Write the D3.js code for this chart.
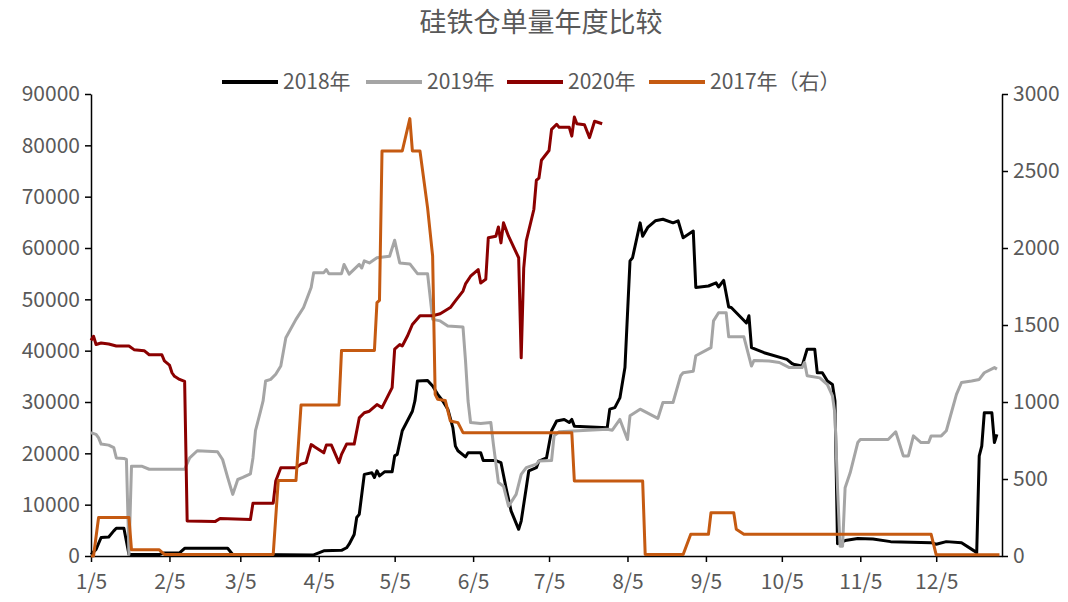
<!DOCTYPE html>
<html><head><meta charset="utf-8">
<script src="https://cdn.jsdelivr.net/npm/d3@7/dist/d3.min.js"></script>
<style>
body{margin:0;background:#fff;}
text{font-family:"Noto Sans CJK SC","Noto Sans",sans-serif;fill:#595959;}
</style></head>
<body><svg id="c" width="1068" height="602"></svg>
<script>
const title = "硅铁仓单量年度比较";
const seriesNames = ["2018年","2019年","2020年","2017年（右）"];
const seriesColors = ["#000000","#A5A5A5","#8B0000","#C55A11"];
const xTickLabels = ["1/5","2/5","3/5","4/5","5/5","6/5","7/5","8/5","9/5","10/5","11/5","12/5"];
const leftTicks = [0,10000,20000,30000,40000,50000,60000,70000,80000,90000];
const rightTicks = [0,500,1000,1500,2000,2500,3000];

const dates2018 = ["01-05","01-07","01-09","01-12","01-14","01-15","01-18","01-20","02-01","02-03","02-09","02-11","02-28","03-02","04-03","04-05","04-07","04-14","04-16","04-17","04-19","04-20","04-21","04-23","04-26","04-27","04-28","04-29","05-01","05-04","05-05","05-06","05-08","05-10","05-12","05-13","05-14","05-18","05-20","05-22","05-24","05-26","05-28","05-29","05-30","06-02","06-03","06-08","06-09","06-14","06-16","06-18","06-20","06-23","06-24","06-26","06-27","06-30","07-01","07-04","07-06","07-08","07-11","07-13","07-14","07-15","07-28","07-29","07-31","08-02","08-04","08-06","08-07","08-10","08-11","08-13","08-16","08-19","08-23","08-25","08-27","08-31","09-01","09-06","09-09","09-10","09-12","09-14","09-15","09-21","09-22","09-23","09-28","10-07","10-09","10-10","10-13","10-15","10-18","10-19","10-21","10-23","10-25","10-26","10-27","10-30","11-04","11-10","11-17","12-03","12-05","12-09","12-15","12-20","12-21","12-22","12-23","12-24","12-27","12-28","12-29"];
const values2018 = [300,1300,3600,3700,4900,5400,5400,300,300,600,600,1500,1500,300,200,600,1000,1100,1600,2300,4200,7500,8100,15900,16200,15300,16600,15600,16400,16400,19500,19800,24400,26300,28200,30200,34100,34200,33100,31500,30200,28600,25000,21400,20500,19300,20100,20100,18600,18600,18200,13300,8800,5200,6800,13300,16600,17200,18500,19100,24400,26300,26600,26000,26600,25300,25000,28600,28900,30800,36700,57500,58100,64900,62300,64000,65300,65600,64900,65300,62000,63300,52300,52600,53200,52400,53700,48500,48400,45400,46800,40600,39600,38300,37500,37300,37000,40300,40300,35700,35700,34100,33400,30200,2400,3000,3400,3300,2800,2600,2300,2800,2600,1000,600,19500,21400,27900,27900,22100,23700];

const dates2019 = ["01-05","01-07","01-08","01-09","01-12","01-14","01-15","01-18","01-19","01-20","01-21","01-25","01-28","02-11","02-13","02-16","02-24","02-26","02-28","03-02","03-04","03-06","03-09","03-10","03-11","03-13","03-14","03-15","03-17","03-19","03-21","03-23","03-27","03-30","04-02","04-03","04-07","04-08","04-09","04-14","04-15","04-17","04-21","04-22","04-23","04-25","04-28","05-03","05-05","05-07","05-11","05-14","05-18","05-20","05-23","05-26","06-01","06-02","06-03","06-04","06-08","06-12","06-13","06-15","06-17","06-19","06-22","06-24","06-26","06-30","07-01","07-06","07-07","07-09","07-28","07-30","08-02","08-05","08-06","08-10","08-17","08-19","08-23","08-26","08-27","08-31","09-01","09-07","09-08","09-10","09-13","09-14","09-20","09-23","09-24","09-30","10-04","10-08","10-13","10-14","10-15","10-20","10-23","10-25","10-26","10-27","10-28","10-29","10-30","11-01","11-04","11-05","11-16","11-19","11-22","11-24","11-26","11-29","12-02","12-03","12-07","12-09","12-13","12-15","12-19","12-22","12-24","12-28","12-29"];
const values2019 = [24000,23700,23000,21800,21600,21100,19100,19000,18800,300,17500,17500,16900,16900,19100,20500,20300,18800,15300,12000,14900,15300,16000,19100,24400,28200,30200,34100,34400,35400,37000,42500,46100,48400,52300,55200,55200,55800,55000,55000,56800,54900,56800,56100,57500,57100,58100,58400,61500,57100,56900,55000,55000,46100,45800,44800,44600,38000,30200,26000,25800,26000,21800,14300,13600,9700,12000,15900,17200,17900,18500,18600,23400,24200,24700,24500,26600,22700,27300,28600,26800,29900,29900,35100,35700,36000,39000,40600,45800,47400,47400,42700,42700,37000,38100,38000,37700,36700,36700,37700,35100,34700,33400,31200,27600,13300,1900,1900,13300,16200,22100,22700,22700,24200,19500,19500,23400,22100,22100,23400,23400,24400,31500,33800,34100,34400,35700,36700,36400];

const dates2020 = ["01-05","01-06","01-07","01-09","01-12","01-15","01-20","01-22","01-26","01-28","02-02","02-03","02-05","02-06","02-07","02-09","02-11","02-12","02-23","02-25","03-09","03-10","03-18","03-19","03-21","03-27","03-29","03-31","04-02","04-03","04-07","04-08","04-10","04-13","04-14","04-16","04-19","04-21","04-23","04-25","04-28","04-30","05-04","05-05","05-07","05-08","05-10","05-12","05-15","05-20","05-23","05-27","05-29","06-01","06-02","06-04","06-07","06-08","06-10","06-11","06-14","06-15","06-16","06-17","06-19","06-23","06-24","06-25","06-26","06-29","06-30","07-01","07-02","07-05","07-06","07-08","07-09","07-13","07-14","07-15","07-16","07-19","07-21","07-23","07-26"];
const values2020 = [42000,42800,41200,41500,41300,40900,40900,40200,40000,39200,39200,38000,37200,35700,35000,34400,34000,6800,6700,7300,7100,10300,10300,14600,17200,17200,17900,18200,21700,21400,20100,21600,21600,18200,19800,21800,21800,26900,27900,28200,29500,28900,32800,40300,41200,40900,42800,45100,46800,46800,47200,48400,49700,51600,53000,54500,55800,53200,53900,62000,62300,64100,61000,64900,62300,58100,38600,56100,61400,67500,73200,73600,77100,79000,83100,84100,83500,83500,81800,85500,84200,84000,81500,84700,84200];

const dates2017 = ["01-05","01-06","01-08","01-20","01-21","02-01","02-03","03-18","03-20","03-27","03-29","04-13","04-14","04-27","04-28","04-29","04-30","05-08","05-11","05-12","05-15","05-18","05-20","05-21","05-22","05-25","05-27","05-30","06-01","07-14","07-15","08-11","08-12","08-27","08-30","09-06","09-07","09-16","09-17","09-20","12-03","12-05","12-30"];
const values2017 = [0,0,250,250,40,40,10,10,490,490,980,980,1335,1335,1645,1660,2630,2630,2840,2630,2630,2262,1948,1050,1017,1010,877,866,801,801,487,487,10,10,141,141,281,281,173,141,141,8,8];

const svg = d3.select("#c");
const parse = s => d3.timeParse("%Y-%m-%d")("2019-" + s);
const parseTick = s => { const [m,d] = s.split("/"); return new Date(2019, +m-1, +d); };

const x = d3.scaleTime().domain([new Date(2019,0,5), new Date(2019,11,31)]).range([91, 1002]);
const yL = d3.scaleLinear().domain([0,90000]).range([556,94]);
const yR = d3.scaleLinear().domain([0,3000]).range([556,94]);

// title
svg.append("text").attr("x",541).attr("y",32).attr("text-anchor","middle")
  .style("font-size","27px").text(title);

// axes
const fs = "21px";
const gx = svg.append("g").attr("transform","translate(0,556)")
  .call(d3.axisBottom(x).tickValues(xTickLabels.map(parseTick)).tickFormat((d,i)=>xTickLabels[i]).tickSize(6).tickPadding(12).tickSizeOuter(0));
const gl = svg.append("g").attr("transform","translate(91,0)")
  .call(d3.axisLeft(yL).tickValues(leftTicks).tickFormat(d3.format("d")).tickSize(6).tickPadding(5).tickSizeOuter(0));
const gr = svg.append("g").attr("transform","translate(1002,0)")
  .call(d3.axisRight(yR).tickValues(rightTicks).tickFormat(d3.format("d")).tickSize(6).tickPadding(5).tickSizeOuter(0));
[gx,gl,gr].forEach(g=>{
  g.selectAll("path.domain").attr("stroke","#000").attr("stroke-width",1.5);
  g.selectAll(".tick line").attr("stroke","#000").attr("stroke-width",1.5);
  g.selectAll(".tick text").style("font-size",fs).style("font-family",'"Noto Sans CJK SC",sans-serif').attr("fill","#595959");
});

// lines (draw order: 2018, 2019, 2020, then 2017 on secondary axis)
const mk = (dates, vals) => dates.map((d,i)=>({d:parse(d), v:vals[i]}));
const data = [
  {name:seriesNames[0], color:seriesColors[0], pts:mk(dates2018, values2018), y:yL},
  {name:seriesNames[1], color:seriesColors[1], pts:mk(dates2019, values2019), y:yL},
  {name:seriesNames[2], color:seriesColors[2], pts:mk(dates2020, values2020), y:yL},
  {name:seriesNames[3], color:seriesColors[3], pts:mk(dates2017, values2017), y:yR}
];
data.forEach(s=>{
  const line = d3.line().x(p=>x(p.d)).y(p=>s.y(p.v));
  svg.append("path").datum(s.pts).attr("d",line).attr("fill","none")
    .attr("stroke",s.color).attr("stroke-width",3).attr("stroke-linejoin","round");
});

// legend
const legendX = [222, 366, 507, 649];
const lg = svg.append("g");
seriesNames.forEach((n,i)=>{
  lg.append("line").attr("x1",legendX[i]).attr("x2",legendX[i]+56).attr("y1",82).attr("y2",82)
    .attr("stroke",seriesColors[i]).attr("stroke-width",4);
  lg.append("text").attr("x",legendX[i]+61).attr("y",82).attr("dy","0.35em")
    .style("font-size","21px").text(n);
});
</script></body></html>
